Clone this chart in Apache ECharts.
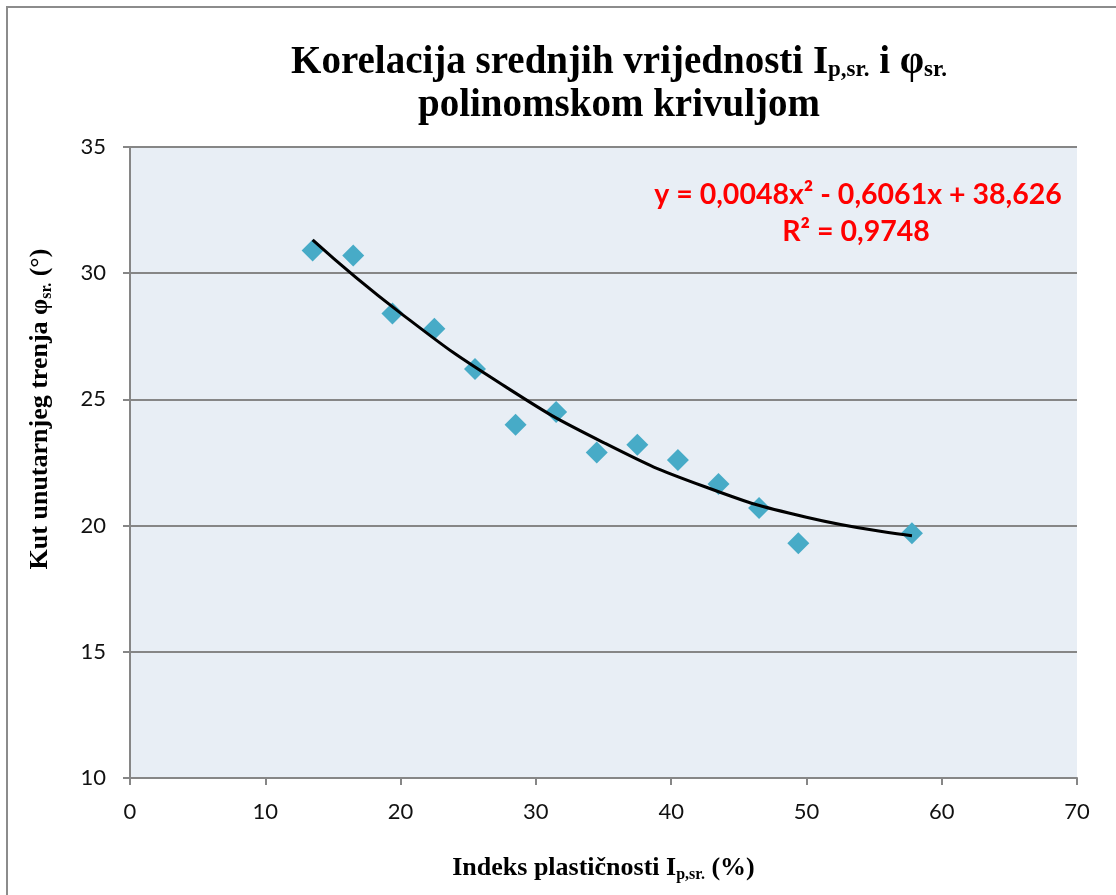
<!DOCTYPE html>
<html><head><meta charset="utf-8">
<script src="https://cdn.jsdelivr.net/npm/echarts@6/dist/echarts.min.js"></script>
<style>html,body{margin:0;padding:0;background:#fff}#c{width:1116px;height:895px}</style>
</head><body><div id="c"></div>
<script>
// measured points (Ip,sr. %, phi,sr. deg)
const pointX = [13.5, 16.5, 19.4, 22.5, 25.5, 28.5, 31.5, 34.5, 37.5, 40.5, 43.5, 46.5, 49.4, 57.8];
const pointY = [30.9, 30.7, 28.4, 27.8, 26.2, 24.0, 24.5, 22.9, 23.2, 22.6, 21.65, 20.7, 19.3, 19.7];
// trendline
const trendX = [13.5, 20, 27.5, 35, 42.5, 50, 57.8];
const trendY = [31.32, 28.42, 25.59, 23.29, 21.54, 20.33, 19.6];
const xTicks = [0, 10, 20, 30, 40, 50, 60, 70];
const yTicks = [10, 15, 20, 25, 30, 35];
const eqLine1 = 'y = 0,0048x² - 0,6061x + 38,626';
const eqLine2 = 'R² = 0,9748';

const chart = echarts.init(document.getElementById('c'));
const serif = '"Liberation Serif", "Times New Roman", serif';
const sans = 'Lato, "Open Sans", sans-serif';
const nameRich = {
  t: {fontFamily: serif, fontWeight: 'bold', fontSize: 26, fill: '#000', color: '#000'},
  s: {fontFamily: serif, fontWeight: 'bold', fontSize: 16, fill: '#000', color: '#000', padding: [13, 0, 0, 0]}
};
chart.setOption({
  backgroundColor: '#fff',
  animation: false,
  title: {
    text: '{t|Korelacija srednjih vrijednosti I}{s|p,sr.}{t| i φ}{s|sr.}\n{t|polinomskom krivuljom}',
    left: 614, textAlign: 'center', top: 36,
    textStyle: {
      rich: {
        t: {fontFamily: serif, fontWeight: 'bold', fontSize: 39, color: '#000', lineHeight: 43},
        s: {fontFamily: serif, fontWeight: 'bold', fontSize: 23, color: '#000', padding: [16, 0, 0, 0], lineHeight: 43}
      }
    }
  },
  graphic: [
    {type: 'rect', shape: {x: 7, y: 7, width: 1120, height: 900}, style: {fill: 'none', stroke: '#8c8c8c', lineWidth: 2}, silent: true, z: -1},
    {type: 'text', x: 858, y: 195, style: {text: eqLine1, font: 'bold 28.5px ' + sans, fill: '#FF0000', align: 'center', verticalAlign: 'middle'}},
    {type: 'text', x: 856, y: 232, style: {text: eqLine2, font: 'bold 28.5px ' + sans, fill: '#FF0000', align: 'center', verticalAlign: 'middle'}},
    {type: 'text', x: 40, y: 409, rotation: Math.PI / 2,
     style: {text: '{t|Kut unutarnjeg trenja φ}{s|sr.}{t| (°)}', rich: nameRich, align: 'center', verticalAlign: 'middle'}}
  ],
  grid: {left: 130, right: 39, top: 147, bottom: 117, show: true, backgroundColor: '#E8EEF5', borderWidth: 0},
  xAxis: {
    type: 'value', min: 0, max: 70, interval: 10,
    name: '{t|Indeks plastičnosti I}{s|p,sr.}{t| (%)}',
    nameLocation: 'middle', nameGap: 76,
    nameTextStyle: {rich: nameRich},
    axisLine: {show: true, onZero: false, lineStyle: {color: '#868686', width: 2}},
    axisTick: {show: true, inside: false, length: 7, lineStyle: {color: '#868686', width: 2}},
    axisLabel: {fontFamily: sans, fontSize: 22, color: '#111', margin: 23},
    splitLine: {show: false}
  },
  yAxis: {
    type: 'value', min: 10, max: 35, interval: 5,
    axisLine: {show: true, lineStyle: {color: '#868686', width: 2}},
    axisTick: {show: true, length: 7, lineStyle: {color: '#868686', width: 2}},
    axisLabel: {fontFamily: sans, fontSize: 22, color: '#111', margin: 24},
    splitLine: {show: true, lineStyle: {color: '#868686', width: 2}}
  },
  series: [
    {
      type: 'line', smooth: 0.5, showSymbol: false, symbol: 'none',
      data: trendX.map((x, i) => [x, trendY[i]]),
      lineStyle: {color: '#000', width: 3}, z: 3
    },
    {
      type: 'scatter', symbol: 'diamond', symbolSize: 22,
      data: pointX.map((x, i) => [x, pointY[i]]),
      itemStyle: {color: '#47ABC7', opacity: 1}, z: 2
    }
  ]
});
</script></body></html>
